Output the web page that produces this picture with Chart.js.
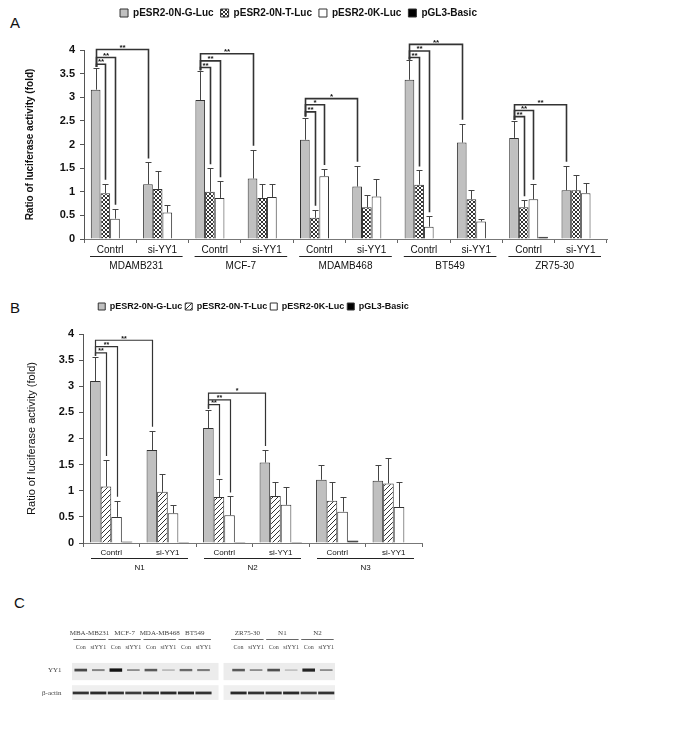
<!DOCTYPE html>
<html>
<head>
<meta charset="utf-8">
<script src="https://cdn.jsdelivr.net/npm/chart.js@4.4.0/dist/chart.umd.min.js"></script>
<style>
  body { margin: 0; background: #fff; width: 685px; height: 742px; position: relative; overflow: hidden; }
  canvas { position: absolute; left: 0; }
  .tag { position: absolute; font: 15px/15px Arial, "Liberation Sans", sans-serif; color: #111; }
</style>
</head>
<body>
<div class="tag" style="left:10px;top:15px">A</div>
<div class="tag" style="left:10px;top:300px">B</div>
<div class="tag" style="left:14px;top:595px">C</div>
<canvas id="chartA" width="685" height="280" style="top:0"></canvas>
<canvas id="chartB" width="685" height="300" style="top:280px"></canvas>
<canvas id="chartC" width="685" height="162" style="top:580px"></canvas>

<script>
const seriesNames = ["pESR2-0N-G-Luc", "pESR2-0N-T-Luc", "pESR2-0K-Luc", "pGL3-Basic"];
const yTitle = "Ratio of luciferase activity (fold)";

// panel A: five cell lines, control vs si-YY1
const aCells = ["MDAMB231", "MCF-7", "MDAMB468", "BT549", "ZR75-30"];
const aLabels = aCells.flatMap(() => ["Contrl", "si-YY1"]);
const aG = [3.16, 1.16, 2.94, 1.28, 2.10, 1.11, 3.37, 2.04, 2.14, 1.03];
const aT = [0.97, 1.06, 1.00, 0.87, 0.45, 0.67, 1.15, 0.84, 0.67, 1.03];
const aK = [0.43, 0.56, 0.87, 0.89, 1.33, 0.90, 0.26, 0.37, 0.84, 0.97];
const aB = [0.01, 0.01, 0.01, 0.01, 0.01, 0.01, 0.01, 0.01, 0.05, 0.01];
const aGErr = [0.46, 0.46, 0.61, 0.61, 0.47, 0.44, 0.41, 0.40, 0.36, 0.52];
const aTErr = [0.20, 0.38, 0.50, 0.30, 0.17, 0.26, 0.30, 0.20, 0.15, 0.32];
const aKErr = [0.21, 0.15, 0.35, 0.27, 0.15, 0.36, 0.22, 0.06, 0.33, 0.22];
// [from category, from series, to category, to series, bracket height, mark]
const aBrackets = [
  [0, 0, 0, 1, 3.70, "**"], [0, 0, 0, 2, 3.84, "**"], [0, 0, 1, 0, 4.01, "**"],
  [2, 0, 2, 1, 3.63, "**"], [2, 0, 2, 2, 3.77, "**"], [2, 0, 3, 0, 3.92, "**"],
  [4, 0, 4, 1, 2.69, "**"], [4, 0, 4, 2, 2.84, "*"], [4, 0, 5, 0, 2.97, "*"],
  [6, 0, 6, 1, 3.84, "**"], [6, 0, 6, 2, 3.98, "**"], [6, 0, 7, 0, 4.12, "**"],
  [8, 0, 8, 1, 2.59, "**"], [8, 0, 8, 2, 2.72, "**"], [8, 0, 9, 0, 2.84, "**"]
];

// panel B: normal breast cells
const bCells = ["N1", "N2", "N3"];
const bLabels = bCells.flatMap(() => ["Contrl", "si-YY1"]);
const bG = [3.10, 1.78, 2.20, 1.54, 1.21, 1.19];
const bT = [1.08, 0.98, 0.88, 0.90, 0.81, 1.14];
const bK = [0.50, 0.57, 0.53, 0.73, 0.60, 0.69];
const bB = [0.03, 0.02, 0.02, 0.02, 0.05, 0.01];
const bGErr = [0.46, 0.37, 0.35, 0.24, 0.28, 0.30];
const bTErr = [0.51, 0.35, 0.34, 0.26, 0.35, 0.49];
const bKErr = [0.31, 0.15, 0.36, 0.35, 0.28, 0.47];
const bBrackets = [
  [0, 0, 0, 1, 3.64, "**"], [0, 0, 0, 2, 3.76, "**"], [0, 0, 1, 0, 3.88, "**"],
  [2, 0, 2, 1, 2.65, "**"], [2, 0, 2, 2, 2.74, "**"], [2, 0, 3, 0, 2.87, "*"]
];

// panel C: western blot, lanes in order ("" = gap between membranes)
const blotCells = ["MBA-MB231", "MCF-7", "MDA-MB468", "BT549", "ZR75-30", "N1", "N2"];
const blotLanes = ["Con", "siYY1", "Con", "siYY1", "Con", "siYY1", "Con", "siYY1", "",
                   "Con", "siYY1", "Con", "siYY1", "Con", "siYY1"];
const yy1Band = [0.70, 0.35, 1.00, 0.30, 0.60, 0.10, 0.50, 0.40, null, 0.60, 0.30, 0.65, 0.06, 0.90, 0.30];
const actinBand = [0.85, 0.90, 0.85, 0.80, 0.85, 0.90, 0.90, 0.85, null, 0.90, 0.85, 0.85, 0.90, 0.75, 0.85];

Chart.defaults.font.family = "Arial, 'Liberation Sans', sans-serif";
Chart.defaults.color = "#111";

function hatch(kind) {
  const c = document.createElement("canvas");
  const s = kind === "cross" ? 4 : 5;
  c.width = c.height = s;
  const g = c.getContext("2d");
  g.fillStyle = "#fff";
  g.fillRect(0, 0, s, s);
  g.strokeStyle = "#333";
  g.lineWidth = 1;
  g.beginPath();
  g.moveTo(0, s); g.lineTo(s, 0);
  g.moveTo(-1, 1); g.lineTo(1, -1);
  g.moveTo(s - 1, s + 1); g.lineTo(s + 1, s - 1);
  if (kind === "cross") {
    g.moveTo(0, 0); g.lineTo(s, s);
    g.moveTo(s - 1, -1); g.lineTo(s + 1, 1);
    g.moveTo(-1, s - 1); g.lineTo(1, s + 1);
  }
  g.stroke();
  return g.createPattern(c, "repeat");
}

/* ---------- plugins ---------- */
const errBars = {
  id: "errBars",
  afterDatasetsDraw(chart, args, o) {
    const ctx = chart.ctx, y = chart.scales.y;
    ctx.save();
    ctx.strokeStyle = "#444";
    ctx.lineWidth = 1;
    chart.data.datasets.forEach((ds, i) => {
      chart.getDatasetMeta(i).data.forEach((bar, j) => {
        const sd = ds.err[j];
        if (!sd) return;
        const top = Math.round(y.getPixelForValue(ds.data[j] + sd)) + 0.5;
        const x = Math.round(bar.x) + 0.5;
        ctx.beginPath();
        ctx.moveTo(x, bar.y);
        ctx.lineTo(x, top);
        ctx.moveTo(x - o.cap, top);
        ctx.lineTo(x + o.cap, top);
        ctx.stroke();
      });
    });
    ctx.restore();
  }
};

const brackets = {
  id: "brackets",
  afterDatasetsDraw(chart, args, o) {
    const ctx = chart.ctx, y = chart.scales.y, ds = chart.data.datasets;
    const tip = (s, c) => {
      const bar = chart.getDatasetMeta(s).data[c];
      return { x: Math.round(bar.x) + 0.5, y: y.getPixelForValue(ds[s].data[c] + (ds[s].err[c] || 0)) };
    };
    ctx.save();
    ctx.strokeStyle = "#333";
    ctx.lineWidth = o.width;
    ctx.fillStyle = "#111";
    ctx.font = o.font;
    ctx.textAlign = "center";
    ctx.textBaseline = "bottom";
    o.list.forEach(([c1, s1, c2, s2, level, mark]) => {
      const a = tip(s1, c1), b = tip(s2, c2);
      const ly = y.getPixelForValue(level);
      ctx.beginPath();
      ctx.moveTo(a.x, a.y - 1);
      ctx.lineTo(a.x, ly);
      ctx.lineTo(b.x, ly);
      ctx.lineTo(b.x, b.y - 4);
      ctx.stroke();
      ctx.fillText(mark, (a.x + b.x) / 2, ly + o.markDy);
    });
    ctx.restore();
  }
};

const groups = {
  id: "groups",
  afterDraw(chart, args, o) {
    const ctx = chart.ctx, x = chart.scales.x, bottom = chart.chartArea.bottom;
    const half = (x.getPixelForValue(1) - x.getPixelForValue(0)) / 2;
    ctx.save();
    ctx.strokeStyle = "#222";
    ctx.lineWidth = 1;
    ctx.fillStyle = "#111";
    ctx.font = o.font;
    ctx.textAlign = "center";
    ctx.textBaseline = "middle";
    o.names.forEach((name, g) => {
      const x0 = x.getPixelForValue(2 * g) - half + o.inset;
      const x1 = x.getPixelForValue(2 * g + 1) + half - o.inset;
      const ly = Math.round(bottom + o.line) + 0.5;
      ctx.beginPath();
      ctx.moveTo(x0, ly);
      ctx.lineTo(x1, ly);
      ctx.stroke();
      ctx.fillText(name, (x0 + x1) / 2, bottom + o.text);
    });
    ctx.restore();
  }
};

// move the legend row to where the figure has it
const legendPlace = {
  id: "legendPlace",
  afterLayout(chart, args, o) {
    const lg = chart.legend;
    const pad = lg.options.labels.padding;
    const dx = o.cx - (lg.left + pad + lg.right) / 2;
    lg.left += dx;
    lg.right += dx;
    const h = lg.bottom - lg.top;
    lg.top = o.top;
    lg.bottom = o.top + h;
  }
};

function barChart(id, cfg) {
  const fills = ["#c0c0c0", hatch(cfg.hatch), "#ffffff", "#000000"];
  return new Chart(document.getElementById(id), {
    type: "bar",
    data: {
      labels: cfg.labels,
      datasets: cfg.series.map((vals, i) => ({
        label: seriesNames[i],
        data: vals,
        err: cfg.errs[i],
        backgroundColor: fills[i],
        borderColor: "#333",
        borderWidth: 1,
        categoryPercentage: cfg.catPct,
        barPercentage: 1
      }))
    },
    options: {
      responsive: false,
      animation: false,
      layout: { padding: cfg.padding },
      plugins: {
        legend: {
          labels: {
            font: { size: cfg.legendSize, weight: "bold" },
            color: "#111",
            boxWidth: cfg.legendBox,
            boxHeight: cfg.legendBox,
            padding: cfg.legendPad
          }
        },
        tooltip: { enabled: false },
        legendPlace: cfg.legendAt,
        errBars: { cap: 3 },
        brackets: { list: cfg.brackets, width: cfg.bracketWidth, font: cfg.markFont, markDy: 2 },
        groups: { names: cfg.cells, font: cfg.cellFont, inset: cfg.inset, line: cfg.groupLine, text: cfg.groupText }
      },
      scales: {
        x: {
          grid: { drawOnChartArea: false, tickLength: 4, color: "#666" },
          border: { color: "#777" },
          ticks: { font: { size: cfg.tickSize }, color: "#111", padding: 1, maxRotation: 0, autoSkip: false },
          afterFit: s => { s.height = cfg.xHeight; }
        },
        y: {
          min: 0,
          max: 4,
          ticks: { stepSize: 0.5, font: { size: 11, weight: "bold" }, color: "#111", padding: 5, callback: v => String(v) },
          grid: { drawOnChartArea: false, tickLength: 4, color: "#555" },
          border: { color: "#555" },
          title: { display: true, text: yTitle, font: cfg.titleFont, color: "#111", padding: { top: cfg.titlePad, bottom: 0 } },
          afterFit: s => { s.width = cfg.yWidth; }
        }
      }
    },
    plugins: [legendPlace, errBars, brackets, groups]
  });
}

barChart("chartA", {
  labels: aLabels, cells: aCells, hatch: "cross",
  series: [aG, aT, aK, aB], errs: [aGErr, aTErr, aKErr, []],
  brackets: aBrackets, catPct: 0.74,
  padding: { left: 20, right: 78, top: 23, bottom: 0 },
  xHeight: 41, yWidth: 64,
  legendSize: 10, legendBox: 8, legendPad: 7, legendAt: { cx: 302, top: 1 },
  tickSize: 10, cellFont: "10px Arial, 'Liberation Sans', sans-serif",
  inset: 6, groupLine: 17, groupText: 27,
  bracketWidth: 1.6, markFont: "bold 8px Arial, 'Liberation Sans', sans-serif",
  titleFont: { size: 10, weight: "bold" }, titlePad: 4
});

barChart("chartB", {
  labels: bLabels, cells: bCells, hatch: "diag",
  series: [bG, bT, bK, bB], errs: [bGErr, bTErr, bKErr, []],
  brackets: bBrackets, catPct: 0.75,
  padding: { left: 18, right: 263, top: 32, bottom: 0 },
  xHeight: 37, yWidth: 65,
  legendSize: 9, legendBox: 7, legendPad: 3, legendAt: { cx: 255, top: 19 },
  tickSize: 8, cellFont: "8px Arial, 'Liberation Sans', sans-serif",
  inset: 8, groupLine: 15, groupText: 25,
  bracketWidth: 1.2, markFont: "bold 7px Arial, 'Liberation Sans', sans-serif",
  titleFont: { size: 11 }, titlePad: 7
});

/* ---------- panel C: blot ---------- */
const blotFont = "7px 'Liberation Serif', 'DejaVu Serif', serif";
const blot = {
  id: "blot",
  beforeDatasetsDraw(chart) {
    const { ctx, scales: { x, y } } = chart;
    const half = (x.getPixelForValue(1) - x.getPixelForValue(0)) / 2;
    const blocks = [];
    blotLanes.forEach((l, i) => {
      if (!l) return;
      const last = blocks[blocks.length - 1];
      if (last && last[1] === i - 1) last[1] = i; else blocks.push([i, i]);
    });
    ctx.save();
    blocks.forEach(([i0, i1], k) => {
      // two membranes meet at the gap lane, leaving a thin white seam
      let x0 = x.getPixelForValue(i0) - half, x1 = x.getPixelForValue(i1) + half;
      if (k > 0) x0 = x.getPixelForValue(i0 - 1) + 2.5;
      if (k < blocks.length - 1) x1 = x.getPixelForValue(i1 + 1) - 2.5;
      ctx.fillStyle = "#ececec";
      ctx.fillRect(x0, y.getPixelForValue(9.3), x1 - x0, y.getPixelForValue(5.2) - y.getPixelForValue(9.3));
      ctx.fillStyle = "#efefef";
      ctx.fillRect(x0, y.getPixelForValue(4.0), x1 - x0, y.getPixelForValue(0.5) - y.getPixelForValue(4.0));
    });
    ctx.restore();
  },
  afterDraw(chart) {
    const { ctx, scales: { x }, chartArea } = chart;
    const half = (x.getPixelForValue(1) - x.getPixelForValue(0)) / 2;
    const lanes = blotLanes.map((l, i) => l ? i : -1).filter(i => i >= 0);
    ctx.save();
    ctx.font = blotFont;
    ctx.fillStyle = "#444";
    ctx.strokeStyle = "#666";
    ctx.lineWidth = 1;
    ctx.textAlign = "center";
    ctx.textBaseline = "middle";
    blotCells.forEach((name, k) => {
      const x0 = x.getPixelForValue(lanes[2 * k]) - half * 0.85;
      const x1 = x.getPixelForValue(lanes[2 * k + 1]) + half * 0.85;
      ctx.fillText(name, (x0 + x1) / 2, chartArea.top - 27);
      ctx.beginPath();
      ctx.moveTo(x0, chartArea.top - 20.5);
      ctx.lineTo(x1, chartArea.top - 20.5);
      ctx.stroke();
    });
    ctx.font = "6px 'Liberation Serif', 'DejaVu Serif', serif";
    lanes.forEach(i => ctx.fillText(blotLanes[i], x.getPixelForValue(i), chartArea.top - 13));
    ctx.font = blotFont;
    ctx.textAlign = "left";
    ctx.fillText("YY1", 48, chartArea.top + 10);
    ctx.fillText("\u03b2-actin", 42, chartArea.top + 33);
    ctx.restore();
  }
};

const band = (levels, mid, base, grow, tone) => ({
  data: levels.map(l => l == null ? null : [mid - base - grow * l, mid + base + grow * l]),
  backgroundColor: levels.map(l => `rgba(${tone},${tone},${tone},${l == null ? 0 : 0.2 + 0.8 * l})`),
  borderWidth: 0,
  grouped: false,
  categoryPercentage: 1
});

new Chart(document.getElementById("chartC"), {
  type: "bar",
  data: {
    labels: blotLanes,
    datasets: [
      Object.assign(band(yy1Band, 7.6, 0.15, 0.25, 20), { barPercentage: 0.72 }),
      Object.assign(band(actinBand, 2.15, 0.2, 0.15, 25), { barPercentage: 0.92 })
    ]
  },
  options: {
    responsive: false,
    animation: false,
    layout: { padding: { left: 72, right: 350, top: 80, bottom: 40 } },
    plugins: { legend: { display: false }, tooltip: { enabled: false } },
    scales: {
      x: { display: false },
      y: { display: false, min: 0, max: 10 }
    }
  },
  plugins: [blot]
});
</script>
</body>
</html>
